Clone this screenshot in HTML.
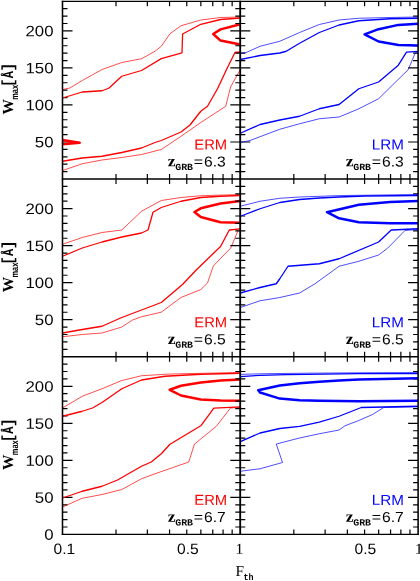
<!DOCTYPE html>
<html><head><meta charset="utf-8"><title>plot</title>
<style>html,body{margin:0;padding:0;background:#fff;}body{width:420px;height:581px;overflow:hidden;font-family:"Liberation Sans",sans-serif;}svg{display:block;}.fs{font-family:"Liberation Sans",sans-serif;}.fr{font-family:"Liberation Serif",serif;}.fm{font-family:"Liberation Mono",monospace;}</style></head><body>
<svg width="420" height="581" viewBox="0 0 420 581">
<rect width="420" height="581" fill="#fff"/>
<clipPath id="cp"><rect x="62.5" y="1.3" width="356.20000000000005" height="533.1"/></clipPath>
<path d="M62.5,171.60h5M62.5,164.19h5M62.5,156.79h5M62.5,149.38h5M62.5,141.98h10M62.5,134.57h5M62.5,127.17h5M62.5,119.77h5M62.5,112.36h5M62.5,104.96h10M62.5,97.55h5M62.5,90.15h5M62.5,82.75h5M62.5,75.34h5M62.5,67.94h10M62.5,60.53h5M62.5,53.13h5M62.5,45.73h5M62.5,38.32h5M62.5,30.92h10M62.5,23.51h5M62.5,16.11h5M62.5,8.70h5M62.5,349.30h5M62.5,341.89h5M62.5,334.49h5M62.5,327.08h5M62.5,319.68h10M62.5,312.27h5M62.5,304.87h5M62.5,297.47h5M62.5,290.06h5M62.5,282.66h10M62.5,275.25h5M62.5,267.85h5M62.5,260.45h5M62.5,253.04h5M62.5,245.64h10M62.5,238.23h5M62.5,230.83h5M62.5,223.43h5M62.5,216.02h5M62.5,208.62h10M62.5,201.21h5M62.5,193.81h5M62.5,186.40h5M62.5,527.00h5M62.5,519.59h5M62.5,512.19h5M62.5,504.78h5M62.5,497.38h10M62.5,489.97h5M62.5,482.57h5M62.5,475.17h5M62.5,467.76h5M62.5,460.36h10M62.5,452.95h5M62.5,445.55h5M62.5,438.15h5M62.5,430.74h5M62.5,423.34h10M62.5,415.93h5M62.5,408.53h5M62.5,401.12h5M62.5,393.72h5M62.5,386.32h10M62.5,378.91h5M62.5,371.51h5M62.5,364.10h5M116.02,1.3v5M116.02,174.0v10M116.02,351.7v10M116.02,534.4v-5M147.33,1.3v5M147.33,174.0v10M147.33,351.7v10M147.33,534.4v-5M169.55,1.3v5M169.55,174.0v10M169.55,351.7v10M169.55,534.4v-5M186.78,1.3v5M186.78,174.0v10M186.78,351.7v10M186.78,534.4v-5M200.86,1.3v5M200.86,174.0v10M200.86,351.7v10M200.86,534.4v-5M212.76,1.3v5M212.76,174.0v10M212.76,351.7v10M212.76,534.4v-5M223.07,1.3v5M223.07,174.0v10M223.07,351.7v10M223.07,534.4v-5M232.16,1.3v5M232.16,174.0v10M232.16,351.7v10M232.16,534.4v-5" stroke="#000" stroke-width="1.2" fill="none"/>
<g clip-path="url(#cp)" fill="none" stroke-linejoin="round" stroke-linecap="butt">
<polyline points="62.50,89.50 70.00,88.00 82.26,80.50 102.01,69.50 121.77,62.50 141.52,58.75 155.00,51.25 161.28,46.25 170.00,33.75 181.03,25.75 200.79,20.00 220.54,17.50 240.30,17.00" stroke="#ff0000" stroke-width="0.70"/>
<polyline points="62.50,98.00 82.26,92.00 102.01,90.75 108.75,88.25 121.77,76.25 141.52,70.50 161.28,58.60 182.00,52.80 182.60,34.00 200.79,24.30 220.54,19.50 240.30,18.00" stroke="#ff0000" stroke-width="1.30"/>
<polyline points="240.30,24.20 220.54,29.40 213.20,34.00 220.54,40.60 240.30,44.60" stroke="#ff0000" stroke-width="2.50"/>
<polyline points="62.50,139.90 79.70,142.70 62.50,144.30" stroke="#ff0000" stroke-width="2.50"/>
<polyline points="62.50,161.25 82.26,158.00 102.01,156.25 121.77,152.50 141.52,148.00 155.00,142.50 161.28,140.50 181.03,132.00 190.00,125.00 200.79,111.25 207.50,106.25 217.50,88.75 227.50,67.50 235.00,52.50 240.30,52.00" stroke="#ff0000" stroke-width="1.30"/>
<polyline points="62.50,170.50 82.26,163.75 102.01,160.00 121.77,157.50 141.52,154.50 161.28,149.50 181.03,136.25 200.79,122.50 225.70,106.25 230.70,86.70 240.30,69.60" stroke="#ff0000" stroke-width="0.70"/>
<polyline points="62.50,244.25 82.26,237.50 102.01,232.50 121.77,230.00 141.52,211.25 161.28,200.50 181.03,197.50 200.79,195.75 240.30,194.50" stroke="#ff0000" stroke-width="0.70"/>
<polyline points="62.50,256.25 82.26,248.00 102.01,242.00 121.77,237.00 141.52,233.00 148.00,230.00 153.00,212.30 161.28,207.50 181.03,201.25 200.79,197.50 220.54,196.25 240.30,195.50" stroke="#ff0000" stroke-width="1.30"/>
<polyline points="240.30,200.90 220.54,203.50 200.79,208.30 194.40,212.00 200.79,217.00 220.54,222.20 240.30,222.80" stroke="#ff0000" stroke-width="2.50"/>
<polyline points="62.50,333.00 82.26,329.50 102.01,326.25 121.77,317.50 141.52,310.00 161.28,302.50 182.50,284.50 196.25,270.00 220.54,246.50 229.30,230.00 240.30,228.80" stroke="#ff0000" stroke-width="1.30"/>
<polyline points="62.50,336.75 82.26,334.50 102.01,333.00 121.77,327.00 132.50,320.00 141.52,316.75 161.28,312.20 181.03,297.50 200.79,289.50 207.50,283.00 213.30,266.00 230.70,248.00 238.00,230.70 240.30,230.20" stroke="#ff0000" stroke-width="0.70"/>
<polyline points="62.50,408.00 82.26,396.25 102.01,388.75 121.77,380.50 141.52,375.75 165.00,374.25 181.03,373.75 240.30,372.50" stroke="#ff0000" stroke-width="0.70"/>
<polyline points="62.50,416.25 82.26,411.25 92.50,408.00 102.01,402.50 121.77,388.75 141.52,380.00 165.00,376.25 200.79,374.25 240.30,373.25" stroke="#ff0000" stroke-width="1.30"/>
<polyline points="240.30,379.50 220.54,380.50 200.79,382.60 181.03,385.80 169.70,389.80 181.03,395.50 200.79,399.50 220.54,400.60 240.30,400.80" stroke="#ff0000" stroke-width="2.50"/>
<polyline points="62.50,498.00 82.26,491.25 102.01,486.25 117.50,480.00 141.52,466.25 151.25,462.00 161.28,453.75 170.00,444.20 200.79,425.80 213.90,408.20 240.30,406.90" stroke="#ff0000" stroke-width="1.30"/>
<polyline points="62.50,507.00 82.26,498.25 102.01,494.50 121.77,489.50 141.52,478.75 155.00,473.75 188.75,462.00 194.40,444.20 216.50,426.10 230.50,408.00 240.30,407.40" stroke="#ff0000" stroke-width="0.70"/>
</g>
<path d="M235.3,171.60h10M418.1,171.60h-5M235.3,164.19h10M418.1,164.19h-5M235.3,156.79h10M418.1,156.79h-5M235.3,149.38h10M418.1,149.38h-5M230.3,141.98h20M418.1,141.98h-10M235.3,134.57h10M418.1,134.57h-5M235.3,127.17h10M418.1,127.17h-5M235.3,119.77h10M418.1,119.77h-5M235.3,112.36h10M418.1,112.36h-5M230.3,104.96h20M418.1,104.96h-10M235.3,97.55h10M418.1,97.55h-5M235.3,90.15h10M418.1,90.15h-5M235.3,82.75h10M418.1,82.75h-5M235.3,75.34h10M418.1,75.34h-5M230.3,67.94h20M418.1,67.94h-10M235.3,60.53h10M418.1,60.53h-5M235.3,53.13h10M418.1,53.13h-5M235.3,45.73h10M418.1,45.73h-5M235.3,38.32h10M418.1,38.32h-5M230.3,30.92h20M418.1,30.92h-10M235.3,23.51h10M418.1,23.51h-5M235.3,16.11h10M418.1,16.11h-5M235.3,8.70h10M418.1,8.70h-5M235.3,349.30h10M418.1,349.30h-5M235.3,341.89h10M418.1,341.89h-5M235.3,334.49h10M418.1,334.49h-5M235.3,327.08h10M418.1,327.08h-5M230.3,319.68h20M418.1,319.68h-10M235.3,312.27h10M418.1,312.27h-5M235.3,304.87h10M418.1,304.87h-5M235.3,297.47h10M418.1,297.47h-5M235.3,290.06h10M418.1,290.06h-5M230.3,282.66h20M418.1,282.66h-10M235.3,275.25h10M418.1,275.25h-5M235.3,267.85h10M418.1,267.85h-5M235.3,260.45h10M418.1,260.45h-5M235.3,253.04h10M418.1,253.04h-5M230.3,245.64h20M418.1,245.64h-10M235.3,238.23h10M418.1,238.23h-5M235.3,230.83h10M418.1,230.83h-5M235.3,223.43h10M418.1,223.43h-5M235.3,216.02h10M418.1,216.02h-5M230.3,208.62h20M418.1,208.62h-10M235.3,201.21h10M418.1,201.21h-5M235.3,193.81h10M418.1,193.81h-5M235.3,186.40h10M418.1,186.40h-5M235.3,527.00h10M418.1,527.00h-5M235.3,519.59h10M418.1,519.59h-5M235.3,512.19h10M418.1,512.19h-5M235.3,504.78h10M418.1,504.78h-5M230.3,497.38h20M418.1,497.38h-10M235.3,489.97h10M418.1,489.97h-5M235.3,482.57h10M418.1,482.57h-5M235.3,475.17h10M418.1,475.17h-5M235.3,467.76h10M418.1,467.76h-5M230.3,460.36h20M418.1,460.36h-10M235.3,452.95h10M418.1,452.95h-5M235.3,445.55h10M418.1,445.55h-5M235.3,438.15h10M418.1,438.15h-5M235.3,430.74h10M418.1,430.74h-5M230.3,423.34h20M418.1,423.34h-10M235.3,415.93h10M418.1,415.93h-5M235.3,408.53h10M418.1,408.53h-5M235.3,401.12h10M418.1,401.12h-5M235.3,393.72h10M418.1,393.72h-5M230.3,386.32h20M418.1,386.32h-10M235.3,378.91h10M418.1,378.91h-5M235.3,371.51h10M418.1,371.51h-5M235.3,364.10h10M418.1,364.10h-5M293.82,1.3v5M293.82,174.0v10M293.82,351.7v10M293.82,534.4v-5M325.13,1.3v5M325.13,174.0v10M325.13,351.7v10M325.13,534.4v-5M347.35,1.3v5M347.35,174.0v10M347.35,351.7v10M347.35,534.4v-5M364.58,1.3v5M364.58,174.0v10M364.58,351.7v10M364.58,534.4v-5M378.66,1.3v5M378.66,174.0v10M378.66,351.7v10M378.66,534.4v-5M390.56,1.3v5M390.56,174.0v10M390.56,351.7v10M390.56,534.4v-5M400.87,1.3v5M400.87,174.0v10M400.87,351.7v10M400.87,534.4v-5M409.96,1.3v5M409.96,174.0v10M409.96,351.7v10M409.96,534.4v-5" stroke="#000" stroke-width="1.2" fill="none"/>
<g clip-path="url(#cp)" fill="none" stroke-linejoin="round" stroke-linecap="butt">
<polyline points="240.30,53.25 246.25,52.50 260.06,46.25 279.81,41.25 299.57,32.50 319.32,24.50 339.08,20.00 358.83,18.25 390.00,17.50 418.10,17.00" stroke="#0000ff" stroke-width="0.70"/>
<polyline points="240.30,59.50 260.06,55.50 279.81,53.00 286.25,51.25 299.57,43.25 319.32,32.50 339.08,25.00 358.83,20.75 390.00,18.75 418.10,18.25" stroke="#0000ff" stroke-width="1.30"/>
<polyline points="418.10,23.75 398.34,24.90 378.59,29.20 364.60,34.40 378.59,41.50 398.34,45.00 418.10,45.50" stroke="#0000ff" stroke-width="2.50"/>
<polyline points="240.30,133.25 260.06,124.50 279.81,120.00 299.57,116.25 319.32,108.75 339.08,104.50 358.83,88.75 378.59,82.00 398.34,65.20 406.50,52.20 418.10,51.30" stroke="#0000ff" stroke-width="1.30"/>
<polyline points="240.30,142.50 250.00,140.50 279.81,129.25 299.57,123.75 319.32,118.75 339.08,117.00 358.83,108.75 378.59,98.75 390.00,87.50 408.10,69.80 415.40,52.60 418.10,51.80" stroke="#0000ff" stroke-width="0.70"/>
<polyline points="240.30,206.25 260.06,201.25 279.81,198.25 299.57,197.00 339.08,195.60 418.10,194.50" stroke="#0000ff" stroke-width="0.70"/>
<polyline points="240.30,216.25 245.00,214.50 260.06,208.75 279.81,202.50 299.57,199.50 319.32,198.00 339.08,197.00 365.00,196.00 418.10,195.50" stroke="#0000ff" stroke-width="1.30"/>
<polyline points="418.10,200.90 390.00,202.00 358.83,204.70 327.00,212.20 339.08,218.30 358.83,222.30 390.00,223.20 418.10,223.20" stroke="#0000ff" stroke-width="2.50"/>
<polyline points="240.30,293.00 260.06,287.50 276.25,283.75 279.81,278.75 288.00,266.25 319.32,263.75 339.08,258.75 378.59,242.00 391.25,230.00 418.10,228.75" stroke="#0000ff" stroke-width="1.30"/>
<polyline points="240.30,307.50 260.06,300.75 279.81,297.50 299.57,293.00 315.00,283.75 339.08,266.25 358.83,261.25 378.59,255.00 387.50,248.25 405.00,230.50 418.10,229.50" stroke="#0000ff" stroke-width="0.70"/>
<polyline points="240.30,374.40 260.06,373.80 306.00,373.20 358.83,372.80 418.10,372.70" stroke="#0000ff" stroke-width="0.70"/>
<polyline points="240.30,376.60 260.06,375.30 286.00,374.70 306.00,374.30 358.83,373.60 418.10,373.50" stroke="#0000ff" stroke-width="1.30"/>
<polyline points="418.10,378.25 358.83,379.50 339.08,380.50 319.32,381.75 299.57,383.30 279.81,385.50 258.20,390.20 260.06,392.50 279.81,398.60 299.57,400.20 319.32,400.80 358.83,401.25 418.10,400.80" stroke="#0000ff" stroke-width="2.50"/>
<polyline points="240.30,441.60 260.06,433.00 279.81,428.50 299.57,426.40 319.32,422.20 339.08,416.25 361.25,407.50 418.10,406.25" stroke="#0000ff" stroke-width="1.30"/>
<polyline points="240.30,471.25 260.06,468.75 282.50,462.50 276.25,444.00 299.57,438.00 319.32,433.75 339.08,430.00 345.00,425.75 358.83,420.50 372.50,414.50 383.75,407.50 418.10,406.75" stroke="#0000ff" stroke-width="0.70"/>
</g>
<path d="M61.8,1.3H418.8" stroke="#000" stroke-width="1.3" fill="none"/>
<path d="M61.8,179.0H418.8M61.8,356.7H418.8" stroke="#000" stroke-width="1.55" fill="none"/>
<path d="M61.8,534.4H418.8" stroke="#000" stroke-width="1.4" fill="none"/>
<path d="M62.5,0.7000000000000001V535.1M418.1,0.7000000000000001V535.1" stroke="#000" stroke-width="1.55" fill="none"/>
<path d="M240.20000000000002,0.7000000000000001V535.1" stroke="#000" stroke-width="1.85" fill="none"/>
<g opacity="0.99" text-rendering="geometricPrecision">
<text transform="translate(53.50 147.38) rotate(0.05) scale(1.12 1.0)" class="fs" font-size="15" fill="#000" text-anchor="end">50</text>
<text transform="translate(53.50 110.36) rotate(0.05) scale(1.12 1.0)" class="fs" font-size="15" fill="#000" text-anchor="end">100</text>
<text transform="translate(53.50 73.34) rotate(0.05) scale(1.12 1.0)" class="fs" font-size="15" fill="#000" text-anchor="end">150</text>
<text transform="translate(53.50 36.32) rotate(0.05) scale(1.12 1.0)" class="fs" font-size="15" fill="#000" text-anchor="end">200</text>
<text transform="translate(53.50 325.08) rotate(0.05) scale(1.12 1.0)" class="fs" font-size="15" fill="#000" text-anchor="end">50</text>
<text transform="translate(53.50 288.06) rotate(0.05) scale(1.12 1.0)" class="fs" font-size="15" fill="#000" text-anchor="end">100</text>
<text transform="translate(53.50 251.04) rotate(0.05) scale(1.12 1.0)" class="fs" font-size="15" fill="#000" text-anchor="end">150</text>
<text transform="translate(53.50 214.02) rotate(0.05) scale(1.12 1.0)" class="fs" font-size="15" fill="#000" text-anchor="end">200</text>
<text transform="translate(53.50 539.80) rotate(0.05) scale(1.12 1.0)" class="fs" font-size="15" fill="#000" text-anchor="end">0</text>
<text transform="translate(53.50 502.78) rotate(0.05) scale(1.12 1.0)" class="fs" font-size="15" fill="#000" text-anchor="end">50</text>
<text transform="translate(53.50 465.76) rotate(0.05) scale(1.12 1.0)" class="fs" font-size="15" fill="#000" text-anchor="end">100</text>
<text transform="translate(53.50 428.74) rotate(0.05) scale(1.12 1.0)" class="fs" font-size="15" fill="#000" text-anchor="end">150</text>
<text transform="translate(53.50 391.72) rotate(0.05) scale(1.12 1.0)" class="fs" font-size="15" fill="#000" text-anchor="end">200</text>
<text transform="translate(64.40 554.00) rotate(0.05) scale(1.04 1.0)" class="fs" font-size="15" fill="#000" text-anchor="middle">0.1</text>
<text transform="translate(187.80 554.00) rotate(0.05) scale(1.04 1.0)" class="fs" font-size="15" fill="#000" text-anchor="middle">0.5</text>
<text transform="translate(239.40 553.80) rotate(0.05) scale(1.1 1.0)" class="fr" font-size="15" fill="#000" text-anchor="middle">1</text>
<text transform="translate(365.40 554.00) rotate(0.05) scale(1.04 1.0)" class="fs" font-size="15" fill="#000" text-anchor="middle">0.5</text>
<text transform="translate(418.90 553.80) rotate(0.05) scale(1.1 1.0)" class="fr" font-size="15" fill="#000" text-anchor="middle">1</text>
<text transform="translate(235.40 576.00) rotate(0.05) scale(1.0 1.0)" class="fr" font-size="15.3" fill="#000">F</text>
<text transform="translate(243.60 580.10) rotate(0.05) scale(0.9 1.0)" class="fm" font-size="9.3" fill="#000" font-weight="bold">th</text>
<g transform="translate(12.9 114.30) rotate(-90)">
<text transform="translate(-0.20 0.00) rotate(0.05) scale(1.0 1.0)" class="fr" font-size="15.4" fill="#000" font-weight="bold">W</text>
<text transform="translate(14.50 5.00) rotate(0.05) scale(0.757 1.0)" class="fs" font-size="9.8" fill="#000" font-weight="bold">max</text>
<text transform="translate(27.10 0.00) rotate(0.05) scale(0.91 1.0)" class="fm" font-size="16.1" fill="#000" font-weight="bold">[</text>
<text transform="translate(36.00 0.00) rotate(0.05) scale(0.8 1.0)" class="fm" font-size="15" fill="#000" font-weight="bold">Å</text>
<text transform="translate(42.70 0.00) rotate(0.05) scale(0.91 1.0)" class="fm" font-size="16.1" fill="#000" font-weight="bold">]</text>
</g>
<g transform="translate(12.9 292.00) rotate(-90)">
<text transform="translate(-0.20 0.00) rotate(0.05) scale(1.0 1.0)" class="fr" font-size="15.4" fill="#000" font-weight="bold">W</text>
<text transform="translate(14.50 5.00) rotate(0.05) scale(0.757 1.0)" class="fs" font-size="9.8" fill="#000" font-weight="bold">max</text>
<text transform="translate(27.10 0.00) rotate(0.05) scale(0.91 1.0)" class="fm" font-size="16.1" fill="#000" font-weight="bold">[</text>
<text transform="translate(36.00 0.00) rotate(0.05) scale(0.8 1.0)" class="fm" font-size="15" fill="#000" font-weight="bold">Å</text>
<text transform="translate(42.70 0.00) rotate(0.05) scale(0.91 1.0)" class="fm" font-size="16.1" fill="#000" font-weight="bold">]</text>
</g>
<g transform="translate(12.9 469.70) rotate(-90)">
<text transform="translate(-0.20 0.00) rotate(0.05) scale(1.0 1.0)" class="fr" font-size="15.4" fill="#000" font-weight="bold">W</text>
<text transform="translate(14.50 5.00) rotate(0.05) scale(0.757 1.0)" class="fs" font-size="9.8" fill="#000" font-weight="bold">max</text>
<text transform="translate(27.10 0.00) rotate(0.05) scale(0.91 1.0)" class="fm" font-size="16.1" fill="#000" font-weight="bold">[</text>
<text transform="translate(36.00 0.00) rotate(0.05) scale(0.8 1.0)" class="fm" font-size="15" fill="#000" font-weight="bold">Å</text>
<text transform="translate(42.70 0.00) rotate(0.05) scale(0.91 1.0)" class="fm" font-size="16.1" fill="#000" font-weight="bold">]</text>
</g>
<text transform="translate(227.20 149.50) rotate(0.05) scale(1.02 1.0)" class="fs" font-size="14.5" fill="#ff0000" text-anchor="end">ERM</text>
<text transform="translate(167.65 166.30) rotate(0.05) scale(1.1 1.0)" class="fr" font-size="16" fill="#000" font-weight="bold">z</text>
<text transform="translate(175.20 170.10) rotate(0.05) scale(1.04 1.0)" class="fm" font-size="9.5" fill="#000" font-weight="bold">GRB</text>
<text transform="translate(193.70 166.50) rotate(0.05) scale(1.1 1.0)" class="fs" font-size="14.5" fill="#000">=</text>
<text transform="translate(225.80 166.50) rotate(0.05) scale(1.08 1.0)" class="fs" font-size="14.5" fill="#000" text-anchor="end">6.3</text>
<text transform="translate(404.00 149.50) rotate(0.05) scale(1.05 1.0)" class="fs" font-size="14.5" fill="#0000ff" text-anchor="end">LRM</text>
<text transform="translate(345.65 166.30) rotate(0.05) scale(1.1 1.0)" class="fr" font-size="16" fill="#000" font-weight="bold">z</text>
<text transform="translate(353.20 170.10) rotate(0.05) scale(1.04 1.0)" class="fm" font-size="9.5" fill="#000" font-weight="bold">GRB</text>
<text transform="translate(371.70 166.50) rotate(0.05) scale(1.1 1.0)" class="fs" font-size="14.5" fill="#000">=</text>
<text transform="translate(403.80 166.50) rotate(0.05) scale(1.08 1.0)" class="fs" font-size="14.5" fill="#000" text-anchor="end">6.3</text>
<text transform="translate(227.20 327.20) rotate(0.05) scale(1.02 1.0)" class="fs" font-size="14.5" fill="#ff0000" text-anchor="end">ERM</text>
<text transform="translate(167.65 344.00) rotate(0.05) scale(1.1 1.0)" class="fr" font-size="16" fill="#000" font-weight="bold">z</text>
<text transform="translate(175.20 347.80) rotate(0.05) scale(1.04 1.0)" class="fm" font-size="9.5" fill="#000" font-weight="bold">GRB</text>
<text transform="translate(193.70 344.20) rotate(0.05) scale(1.1 1.0)" class="fs" font-size="14.5" fill="#000">=</text>
<text transform="translate(225.80 344.20) rotate(0.05) scale(1.08 1.0)" class="fs" font-size="14.5" fill="#000" text-anchor="end">6.5</text>
<text transform="translate(404.00 327.20) rotate(0.05) scale(1.05 1.0)" class="fs" font-size="14.5" fill="#0000ff" text-anchor="end">LRM</text>
<text transform="translate(345.65 344.00) rotate(0.05) scale(1.1 1.0)" class="fr" font-size="16" fill="#000" font-weight="bold">z</text>
<text transform="translate(353.20 347.80) rotate(0.05) scale(1.04 1.0)" class="fm" font-size="9.5" fill="#000" font-weight="bold">GRB</text>
<text transform="translate(371.70 344.20) rotate(0.05) scale(1.1 1.0)" class="fs" font-size="14.5" fill="#000">=</text>
<text transform="translate(403.80 344.20) rotate(0.05) scale(1.08 1.0)" class="fs" font-size="14.5" fill="#000" text-anchor="end">6.5</text>
<text transform="translate(227.20 504.90) rotate(0.05) scale(1.02 1.0)" class="fs" font-size="14.5" fill="#ff0000" text-anchor="end">ERM</text>
<text transform="translate(167.65 521.70) rotate(0.05) scale(1.1 1.0)" class="fr" font-size="16" fill="#000" font-weight="bold">z</text>
<text transform="translate(175.20 525.50) rotate(0.05) scale(1.04 1.0)" class="fm" font-size="9.5" fill="#000" font-weight="bold">GRB</text>
<text transform="translate(193.70 521.90) rotate(0.05) scale(1.1 1.0)" class="fs" font-size="14.5" fill="#000">=</text>
<text transform="translate(225.80 521.90) rotate(0.05) scale(1.08 1.0)" class="fs" font-size="14.5" fill="#000" text-anchor="end">6.7</text>
<text transform="translate(404.00 504.90) rotate(0.05) scale(1.05 1.0)" class="fs" font-size="14.5" fill="#0000ff" text-anchor="end">LRM</text>
<text transform="translate(345.65 521.70) rotate(0.05) scale(1.1 1.0)" class="fr" font-size="16" fill="#000" font-weight="bold">z</text>
<text transform="translate(353.20 525.50) rotate(0.05) scale(1.04 1.0)" class="fm" font-size="9.5" fill="#000" font-weight="bold">GRB</text>
<text transform="translate(371.70 521.90) rotate(0.05) scale(1.1 1.0)" class="fs" font-size="14.5" fill="#000">=</text>
<text transform="translate(403.80 521.90) rotate(0.05) scale(1.08 1.0)" class="fs" font-size="14.5" fill="#000" text-anchor="end">6.7</text>
</g>
</svg></body></html>
